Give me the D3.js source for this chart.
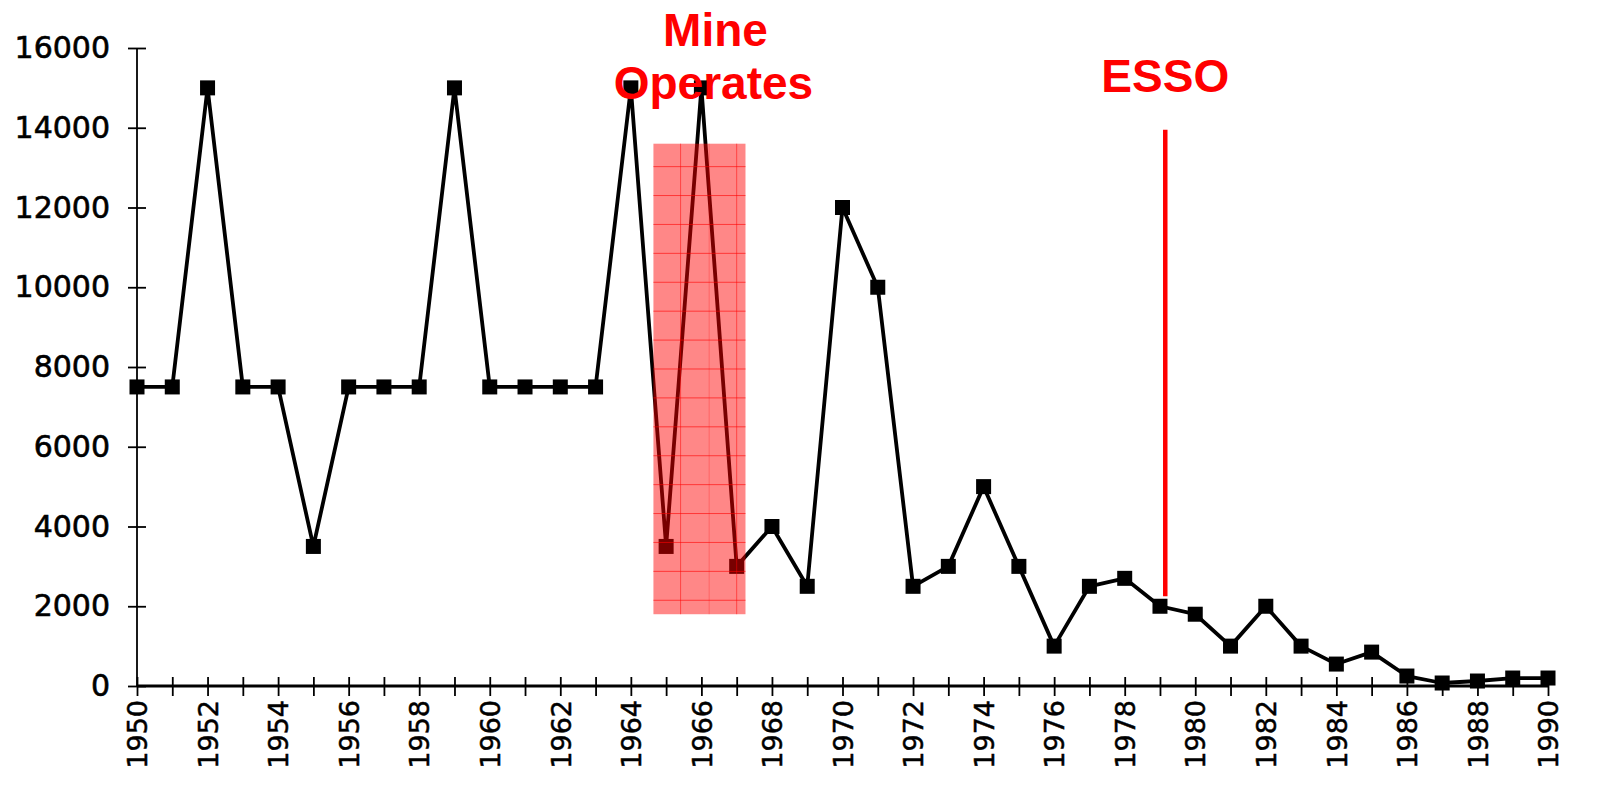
<!DOCTYPE html>
<html>
<head>
<meta charset="utf-8">
<script src="https://cdn.jsdelivr.net/npm/d3@7"></script>
<style>
  html, body { margin: 0; padding: 0; background: #fff; }
  svg { display: block; }
</style>
</head>
<body>
<svg id="chart" width="1614" height="798"></svg>
<script>
const years = [1950,1951,1952,1953,1954,1955,1956,1957,1958,1959,1960,1961,1962,1963,1964,1965,1966,1967,1968,1969,1970,1971,1972,1973,1974,1975,1976,1977,1978,1979,1980,1981,1982,1983,1984,1985,1986,1987,1988,1989,1990];
const values = [7500,7500,15000,7500,7500,3500,7500,7500,7500,15000,7500,7500,7500,7500,15000,3500,15000,3000,4000,2500,12000,10000,2500,3000,5000,3000,1000,2500,2700,2000,1800,1000,2000,1000,550,850,250,75,125,200,200];
const yTicks = [0,2000,4000,6000,8000,10000,12000,14000,16000];
const xLabelYears = d3.range(1950, 1991, 2);
const mineSpan = [1964.64, 1967.25];
const mineRange = [1800, 13600];
const mineGridYears = [1965.41, 1966.22, 1967.0];
const essoYear = 1979.15;
const essoRange = [2250, 13950];

const svg = d3.select("#chart");
const x = d3.scaleLinear().domain([1950, 1990]).range([137, 1548]);
const y = d3.scaleLinear().domain([0, 16000]).range([686, 48]);
const labelFont = "DejaVu Sans, sans-serif";
const boldFont = "Liberation Sans, Arial, sans-serif";

// y axis
const yAxis = svg.append("g").attr("transform", "translate(137,0)")
  .call(d3.axisLeft(y).tickValues(yTicks).tickSize(9).tickPadding(18).tickFormat(d3.format("d")));
yAxis.select(".domain").attr("stroke", "#000").attr("stroke-width", 1.8).attr("d", `M0,${y(16000)}V${y(0)}`);
yAxis.selectAll(".tick line").attr("x2", -9).attr("x1", 9).attr("stroke-width", 1.8);
yAxis.selectAll(".tick text").attr("font-family", labelFont).attr("font-size", 30)
  .attr("fill", "#000").attr("stroke", "#000").attr("stroke-width", 0.6);

// x axis
const xAxis = svg.append("g").attr("transform", "translate(0,686)")
  .call(d3.axisBottom(x).tickValues(years).tickSize(10).tickFormat(d => xLabelYears.includes(d) ? d : ""));
xAxis.select(".domain").attr("stroke", "#000").attr("stroke-width", 3).attr("d", `M${x(1950)},0H${x(1990)}`);
xAxis.selectAll(".tick line").attr("y1", -9).attr("y2", 10).attr("stroke-width", 1.8);
xAxis.selectAll(".tick text")
  .attr("font-family", labelFont).attr("font-size", 27).attr("fill", "#000")
  .attr("stroke", "#000").attr("stroke-width", 0.5)
  .attr("transform", "rotate(-90)")
  .attr("text-anchor", "end")
  .attr("x", -14).attr("y", 0).attr("dy", "0.36em");

// line and markers
const pts = years.map((yr, i) => [yr, values[i]]);
svg.append("path").datum(pts)
  .attr("fill", "none").attr("stroke", "#000").attr("stroke-width", 3.8)
  .attr("stroke-linejoin", "round")
  .attr("d", d3.line().x(d => x(d[0])).y(d => y(d[1])));
svg.append("g").selectAll("rect").data(pts).join("rect")
  .attr("x", d => x(d[0]) - 7.5).attr("y", d => y(d[1]) - 7.5)
  .attr("width", 15).attr("height", 15).attr("fill", "#000");

// Mine operates band
const bx0 = x(mineSpan[0]), bx1 = x(mineSpan[1]);
const by0 = y(mineRange[1]), by1 = y(mineRange[0]);
const band = svg.append("g");
band.append("rect").attr("x", bx0).attr("y", by0).attr("width", bx1 - bx0).attr("height", by1 - by0)
  .attr("fill", "rgba(255,0,0,0.47)");
const hLines = d3.range(mineRange[0] + 350, mineRange[1], 725);
band.selectAll("line.h").data(hLines).join("line").attr("class", "h")
  .attr("x1", bx0).attr("x2", bx1).attr("y1", d => y(d)).attr("y2", d => y(d))
  .attr("stroke", "rgba(255,0,0,0.6)").attr("stroke-width", 1);
band.selectAll("line.v").data(mineGridYears).join("line").attr("class", "v")
  .attr("x1", d => x(d)).attr("x2", d => x(d)).attr("y1", by0).attr("y2", by1)
  .attr("stroke", (d, i) => i === 1 ? "rgba(255,0,0,0.25)" : "rgba(255,0,0,0.5)").attr("stroke-width", 1);

svg.append("text").attr("x", (bx0 + bx1) / 2 + 16).attr("y", 46)
  .attr("text-anchor", "middle").attr("font-family", boldFont)
  .attr("font-weight", "bold").attr("font-size", 46).attr("fill", "#ff0000").text("Mine");
svg.append("text").attr("x", (bx0 + bx1) / 2 + 14).attr("y", 99)
  .attr("text-anchor", "middle").attr("font-family", boldFont)
  .attr("font-weight", "bold").attr("font-size", 46).attr("fill", "#ff0000").text("Operates");

// ESSO marker
svg.append("line").attr("x1", x(essoYear)).attr("x2", x(essoYear))
  .attr("y1", y(essoRange[1])).attr("y2", y(essoRange[0]))
  .attr("stroke", "#ff0000").attr("stroke-width", 4.5);
svg.append("text").attr("x", x(essoYear)).attr("y", 92)
  .attr("text-anchor", "middle").attr("font-family", boldFont)
  .attr("font-weight", "bold").attr("font-size", 46).attr("fill", "#ff0000").text("ESSO");
</script>
</body>
</html>
